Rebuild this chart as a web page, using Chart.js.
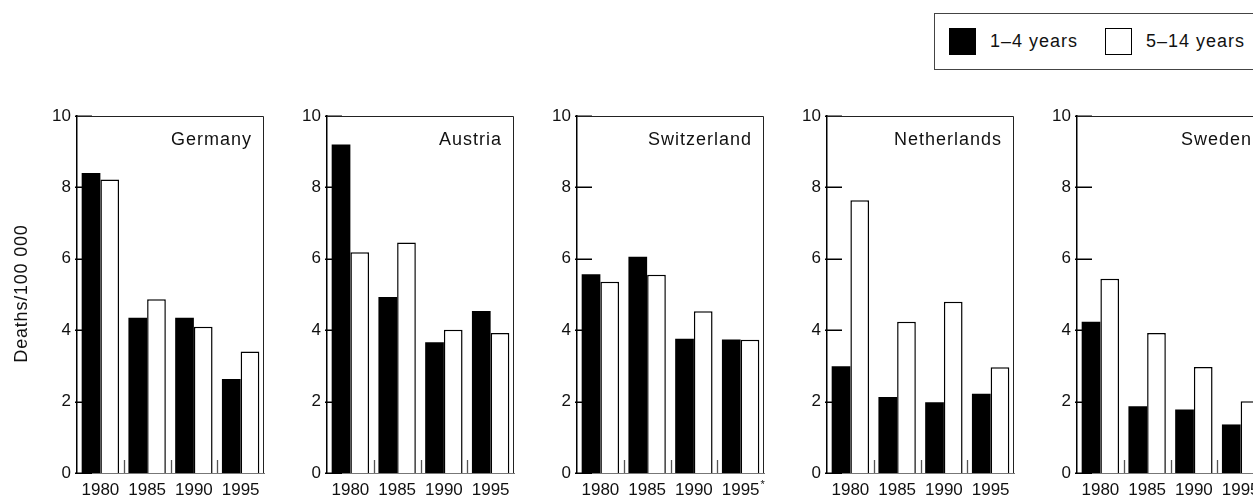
<!DOCTYPE html>
<html><head><meta charset="utf-8">
<script src="https://cdn.jsdelivr.net/npm/chart.js@4"></script>
<style>
html,body{margin:0;padding:0;background:#fff;overflow:hidden;width:1253px;height:497px;position:relative;}
.panel{position:absolute;top:0;width:265px;height:497px;}
#legend{position:absolute;left:934px;top:13px;width:330px;height:55px;border:1px solid #444;font-family:'Liberation Sans',Arial,sans-serif;font-size:18px;letter-spacing:1px;color:#111;}
.item{position:absolute;top:0;height:55px;display:flex;align-items:center;white-space:nowrap;}
.sw{width:27px;height:27px;box-sizing:border-box;border:1px solid #000;margin-right:14px;}
</style>
</head><body>
<div id="legend"></div>
<script>
const years = ['1980', '1985', '1990', '1995'];
const countries = ['Germany', 'Austria', 'Switzerland', 'Netherlands', 'Sweden'];
const yearNotes = [['', '', '', ''], ['', '', '', ''], ['', '', '', '*'], ['', '', '', ''], ['', '', '', '']];
const seriesNames = ['1–4 years', '5–14 years'];
const yTickValues = [0, 2, 4, 6, 8, 10];
const yAxisTitle = 'Deaths/100 000';

const germanyAge1to4 = [8.40, 4.35, 4.35, 2.63];
const germanyAge5to14 = [8.22, 4.87, 4.10, 3.40];
const austriaAge1to4 = [9.20, 4.93, 3.66, 4.54];
const austriaAge5to14 = [6.18, 6.46, 4.01, 3.92];
const switzerlandAge1to4 = [5.57, 6.06, 3.76, 3.74];
const switzerlandAge5to14 = [5.36, 5.55, 4.53, 3.73];
const netherlandsAge1to4 = [2.99, 2.13, 1.98, 2.22];
const netherlandsAge5to14 = [7.64, 4.24, 4.80, 2.96];
const swedenAge1to4 = [4.24, 1.87, 1.78, 1.36];
const swedenAge5to14 = [5.44, 3.92, 2.97, 2.01];

const panelSeries = [
  [germanyAge1to4, germanyAge5to14],
  [austriaAge1to4, austriaAge5to14],
  [switzerlandAge1to4, switzerlandAge5to14],
  [netherlandsAge1to4, netherlandsAge5to14],
  [swedenAge1to4, swedenAge5to14]
];

const FONT = "'Liberation Sans', Arial, sans-serif";
const INK = '#111';

// Legend (HTML, built from the series names)
const legend = document.getElementById('legend');
const legendLeft = [14, 170];
const legendFill = ['#000', '#fff'];
seriesNames.forEach((name, i) => {
  const it = document.createElement('div');
  it.className = 'item';
  it.style.left = legendLeft[i] + 'px';
  const sw = document.createElement('span');
  sw.className = 'sw';
  sw.style.background = legendFill[i];
  it.appendChild(sw);
  const tx = document.createElement('span');
  tx.textContent = name;
  it.appendChild(tx);
  legend.appendChild(it);
});

const panelDecor = {
  id: 'panelDecor',
  beforeDatasetsDraw(chart) {
    const { ctx, chartArea: a, scales: { x, y } } = chart;
    ctx.save();
    // inner y ticks
    ctx.strokeStyle = '#000';
    ctx.lineWidth = 1.5;
    y.ticks.forEach(t => {
      const py = Math.round(y.getPixelForValue(t.value)) + 0.25;
      ctx.beginPath();
      ctx.moveTo(a.left - 2, py);
      ctx.lineTo(a.left + 15, py);
      ctx.stroke();
    });
    // short group separators on the baseline
    ctx.strokeStyle = '#555';
    ctx.lineWidth = 1.3;
    for (let i = 1; i < x.ticks.length; i++) {
      const px = Math.round((x.getPixelForValue(i - 1) + x.getPixelForValue(i)) / 2) + 0.5;
      ctx.beginPath();
      ctx.moveTo(px, a.bottom);
      ctx.lineTo(px, a.bottom - 13);
      ctx.stroke();
    }
    ctx.restore();
  },
  afterDraw(chart, args, opts) {
    const { ctx, chartArea: a, scales: { x } } = chart;
    ctx.save();
    // top and right frame
    ctx.strokeStyle = '#222';
    ctx.lineWidth = 1;
    ctx.beginPath();
    ctx.moveTo(a.left, a.top + 0.5);
    ctx.lineTo(a.right - 0.5, a.top + 0.5);
    ctx.lineTo(a.right - 0.5, a.bottom);
    ctx.stroke();
    // panel title
    ctx.fillStyle = INK;
    ctx.font = '18px ' + FONT;
    ctx.letterSpacing = '1px';
    ctx.textAlign = 'right';
    ctx.textBaseline = 'alphabetic';
    ctx.fillText(opts.title, a.right - 12, a.top + 29);
    // footnote markers on year labels
    ctx.letterSpacing = '0px';
    ctx.textAlign = 'left';
    ctx.textBaseline = 'top';
    (opts.notes || []).forEach((n, i) => {
      if (!n) return;
      ctx.font = '17px ' + FONT;
      const w = ctx.measureText(String(chart.data.labels[i])).width;
      ctx.font = '11px ' + FONT;
      ctx.fillText(n, x.getPixelForValue(i) + w / 2 + 1, a.bottom + 6);
    });
    // y axis title
    if (opts.yTitle) {
      ctx.font = '18px ' + FONT;
      ctx.letterSpacing = '0.8px';
      ctx.textAlign = 'center';
      ctx.textBaseline = 'middle';
      ctx.translate(22, (a.top + a.bottom) / 2);
      ctx.rotate(-Math.PI / 2);
      ctx.fillText(opts.yTitle, 1, 0);
    }
    ctx.restore();
  }
};

countries.forEach((country, p) => {
  const div = document.createElement('div');
  div.className = 'panel';
  div.style.left = (250 * p) + 'px';
  const cv = document.createElement('canvas');
  cv.width = 265; cv.height = 497;
  div.appendChild(cv);
  document.body.appendChild(div);

  const [s1, s2] = panelSeries[p];
  new Chart(cv, {
    type: 'bar',
    data: {
      labels: years,
      datasets: [
        { label: seriesNames[0], data: s1, backgroundColor: '#000', borderColor: '#000', borderWidth: 0 },
        { label: seriesNames[1], data: s2, backgroundColor: '#fff', borderColor: '#000', borderWidth: 1.5 }
      ]
    },
    options: {
      responsive: false,
      animation: false,
      devicePixelRatio: 1,
      layout: { padding: { top: 116, right: 1, left: 0, bottom: 0 } },
      datasets: { bar: { categoryPercentage: 0.8, barPercentage: 1.0 } },
      plugins: {
        legend: { display: false },
        tooltip: { enabled: false },
        panelDecor: { title: country, notes: yearNotes[p], yTitle: p === 0 ? yAxisTitle : '' }
      },
      scales: {
        x: {
          grid: { display: false, drawTicks: false },
          border: { display: true, color: '#777', width: 1 },
          ticks: { color: INK, font: { family: FONT, size: 17 }, padding: 7, maxRotation: 0, autoSkip: false },
          afterFit: s => { s.height = 24; s.paddingLeft = 0; s.paddingRight = 0; }
        },
        y: {
          min: 0, max: 10,
          afterBuildTicks: s => { s.ticks = yTickValues.map(v => ({ value: v })); },
          grid: { display: false, drawTicks: false },
          border: { display: true, color: '#000', width: 1.5 },
          ticks: { color: INK, font: { family: FONT, size: 17 }, padding: 6 },
          afterFit: s => { s.width = 77; }
        }
      }
    },
    plugins: [panelDecor]
  });
});
</script>
</body></html>
